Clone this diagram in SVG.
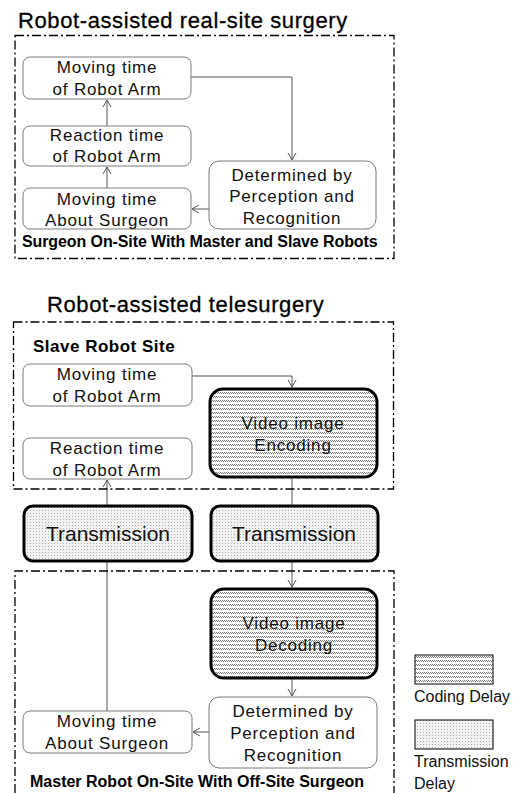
<svg xmlns="http://www.w3.org/2000/svg" width="529" height="793" viewBox="0 0 529 793">
<defs>
<style>
.title{font-family:"Liberation Sans",Arial,sans-serif;font-size:22px;fill:#000;stroke:#000;stroke-width:0.3;letter-spacing:0.6px}
.lbl{font-family:"Liberation Sans",Arial,sans-serif;font-size:16px;font-weight:bold;fill:#000;letter-spacing:-0.1px}
.t{font-family:"Liberation Sans",Arial,sans-serif;font-size:17px;fill:#111;text-anchor:middle;letter-spacing:0.8px}
.tb{font-family:"Liberation Sans",Arial,sans-serif;font-size:21px;fill:#111;text-anchor:middle}
.leg{font-family:"Liberation Sans",Arial,sans-serif;font-size:16px;fill:#111}
.n{fill:#fff;stroke:#7a7a7a;stroke-width:1}
.hn{fill:url(#hatch);stroke:#000;stroke-width:3}
.dn{fill:url(#dots);stroke:#000;stroke-width:3}
.frame{fill:none;stroke:#000;stroke-width:1.3;stroke-dasharray:9 3 2 3}
.c{fill:none;stroke:#555;stroke-width:1}
.ca{fill:none;stroke:#555;stroke-width:1;marker-end:url(#arr)}
</style>
<pattern id="hatch" width="2" height="4" patternUnits="userSpaceOnUse">
<rect width="2" height="4" fill="#fff"/>
<rect x="0" y="0" width="1" height="1" fill="#777"/>
<rect x="1" y="1" width="1" height="1" fill="#777"/>
</pattern>
<pattern id="dots" width="3" height="3" patternUnits="userSpaceOnUse">
<rect width="3" height="3" fill="#f2f2f2"/>
<rect x="0" y="0" width="1" height="1" fill="#b0b0b0"/>
</pattern>
<marker id="arr" markerWidth="10" markerHeight="10" refX="8" refY="5" orient="auto" markerUnits="userSpaceOnUse">
<path d="M1,1 L8,5 L1,9" fill="none" stroke="#555" stroke-width="1"/>
</marker>
</defs>
<rect width="529" height="793" fill="#fff"/>

<!-- Section 1 -->
<text class="title" x="18" y="28">Robot-assisted real-site surgery</text>
<rect class="frame" x="15" y="35.5" width="379" height="223"/>
<text class="lbl" x="22" y="247">Surgeon On-Site With Master and Slave Robots</text>

<g id="connectors">
<path class="ca" d="M191,77 H292 V160"/>
<path class="ca" d="M107,126 V100"/>
<path class="ca" d="M107,188 V167"/>
<path class="ca" d="M209,209 H192"/>
<path class="ca" d="M192,376 H292 V387"/>
<path class="ca" d="M107,711 V480"/>
<path class="c" d="M292,477 V505"/>
<path class="ca" d="M292,561 V587"/>
<path class="ca" d="M292,679 V696"/>
<path class="ca" d="M209,732 H193"/>
</g>

<g id="s1-moving-arm"><rect class="n" x="23" y="57" width="168" height="42" rx="7"/>
<text class="t" x="107" y="73">Moving time</text><text class="t" x="107" y="95">of Robot Arm</text></g>
<g id="s1-reaction-arm"><rect class="n" x="23" y="126" width="168" height="40" rx="7"/>
<text class="t" x="107" y="141">Reaction time</text><text class="t" x="107" y="162">of Robot Arm</text></g>
<g id="s1-moving-surgeon"><rect class="n" x="23" y="188" width="168" height="41" rx="7"/>
<text class="t" x="107" y="205">Moving time</text><text class="t" x="107" y="226">About Surgeon</text></g>
<g id="s1-determined"><rect class="n" x="209" y="161" width="167" height="68" rx="10"/>
<text class="t" x="292" y="181">Determined by</text><text class="t" x="292" y="202">Perception and</text><text class="t" x="292" y="224">Recognition</text></g>

<!-- Section 2 -->
<text class="title" x="47" y="312">Robot-assisted telesurgery</text>
<rect class="frame" x="13.5" y="322" width="380" height="167"/>
<text class="lbl" x="33" y="352" style="font-size:17px;letter-spacing:0.5px">Slave Robot Site</text>
<path class="frame" d="M15,793 V571 H394 V793"/>
<text class="lbl" x="30" y="787" style="letter-spacing:0">Master Robot On-Site With Off-Site Surgeon</text>

<g id="s2-moving-arm"><rect class="n" x="23" y="364" width="169" height="42" rx="7"/>
<text class="t" x="107" y="380">Moving time</text><text class="t" x="107" y="402">of Robot Arm</text></g>
<g id="s2-reaction-arm"><rect class="n" x="23" y="438" width="169" height="41" rx="7"/>
<text class="t" x="107" y="454">Reaction time</text><text class="t" x="107" y="476">of Robot Arm</text></g>
<g id="s2-encoding"><rect class="hn" x="210" y="389" width="167" height="88" rx="13"/>
<text class="t" x="293" y="429">Video image</text><text class="t" x="293" y="451">Encoding</text></g>
<g id="s2-transmission-left"><rect class="dn" x="24" y="506" width="168" height="55" rx="9"/>
<text class="tb" x="108" y="541">Transmission</text></g>
<g id="s2-transmission-right"><rect class="dn" x="211" y="506" width="167" height="55" rx="9"/>
<text class="tb" x="294" y="541">Transmission</text></g>
<g id="s2-decoding"><rect class="hn" x="211" y="589" width="166" height="89" rx="13"/>
<text class="t" x="294" y="629">Video image</text><text class="t" x="294" y="651">Decoding</text></g>
<g id="s2-determined"><rect class="n" x="209" y="697" width="168" height="71" rx="10"/>
<text class="t" x="293" y="717">Determined by</text><text class="t" x="293" y="739">Perception and</text><text class="t" x="293" y="761">Recognition</text></g>
<g id="s2-moving-surgeon"><rect class="n" x="23" y="711" width="169" height="42" rx="7"/>
<text class="t" x="107" y="727">Moving time</text><text class="t" x="107" y="749">About Surgeon</text></g>

<!-- Legend -->
<g id="legend-coding"><rect x="415" y="655" width="78" height="29" fill="url(#hatch)" stroke="#000" stroke-width="1"/>
<text class="leg" x="414" y="702">Coding Delay</text></g>
<g id="legend-transmission"><rect x="415" y="720" width="78" height="29" fill="url(#dots)" stroke="#000" stroke-width="1"/>
<text class="leg" x="414" y="767">Transmission</text><text class="leg" x="414" y="789">Delay</text></g>
</svg>
